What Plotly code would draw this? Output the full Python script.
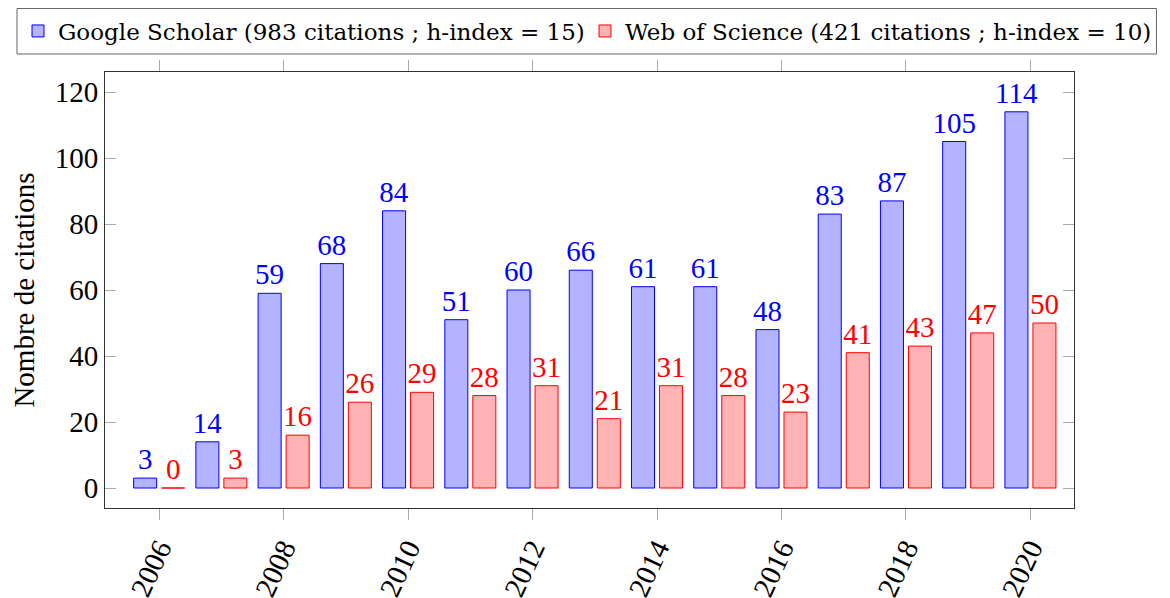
import plotly.graph_objects as go

years = list(range(2006, 2021))
gs_values = [3, 14, 59, 68, 84, 51, 60, 66, 61, 61, 48, 83, 87, 105, 114]
wos_values = [0, 3, 16, 26, 29, 28, 31, 21, 31, 28, 23, 41, 43, 47, 50]
gs_name = "Google Scholar (983 citations ; h-index = 15)"
wos_name = "Web of Science (421 citations ; h-index = 10)"
y_title = "Nombre de citations"

serif = "Liberation Serif, Times New Roman, serif"
legend_font = dict(family="DejaVu Serif, serif", size=23, color="black")

fig = go.Figure()
fig.add_trace(go.Bar(
    x=years, y=gs_values, name=gs_name, legend="legend",
    width=0.37, offset=-0.41,
    marker=dict(color="#b3b3ff", line=dict(color="#0000ff", width=1)),
    text=[str(v) for v in gs_values], textposition="outside",
    textfont=dict(family=serif, size=29, color="#0000ff"),
    constraintext="none", cliponaxis=False,
))
fig.add_trace(go.Bar(
    x=years, y=wos_values, name=wos_name, legend="legend2",
    width=0.37, offset=0.04,
    marker=dict(color="#ffb3b3", line=dict(color="#ff0000", width=1)),
    text=[str(v) for v in wos_values], textposition="outside",
    textfont=dict(family=serif, size=29, color="#ff0000"),
    constraintext="none", cliponaxis=False,
))

W, H = 1162, 590
fig.update_layout(
    width=W, height=H,
    margin=dict(l=97, r=96, t=64, b=90, autoexpand=False),
    plot_bgcolor="white", paper_bgcolor="white",
    barmode="overlay",
    font=dict(family=serif, size=29, color="black"),
    showlegend=True,
    legend=dict(
        orientation="h", xref="container", yref="container",
        x=10 / W, xanchor="left", y=1 - 23 / H, yanchor="middle",
        font=legend_font, borderwidth=0, bgcolor="rgba(0,0,0,0)",
        itemwidth=30,
    ),
    legend2=dict(
        orientation="h", xref="container", yref="container",
        x=577 / W, xanchor="left", y=1 - 23 / H, yanchor="middle",
        font=legend_font, borderwidth=0, bgcolor="rgba(0,0,0,0)",
        itemwidth=30,
    ),
    shapes=[dict(
        type="rect", xref="paper", yref="paper",
        x0=-0.0908, x1=1.0851, y0=1.0413, y1=1.1456,
        line=dict(color="#666", width=1), fillcolor="rgba(0,0,0,0)",
        layer="above",
    )],
    xaxis=dict(
        range=[2005.13, 2020.70], tickmode="linear", tick0=2006, dtick=2,
        ticks="outside", ticklen=11, tickcolor="#aaa", tickwidth=1,
        showline=True, linecolor="#333", linewidth=1, mirror="ticks",
        showgrid=False, zeroline=False, tickangle=-65,
        tickfont=dict(family=serif, size=29),
    ),
    yaxis=dict(
        range=[-6.06, 126.06], tickmode="linear", tick0=0, dtick=20,
        ticks="inside", ticklen=11, tickcolor="#aaa", tickwidth=1,
        showline=True, linecolor="#333", linewidth=1, mirror="ticks",
        showgrid=False, zeroline=False,
        tickfont=dict(family=serif, size=29),
        title=dict(text=y_title, font=dict(family=serif, size=29), standoff=12),
    ),
)
fig.write_html("out.html")
